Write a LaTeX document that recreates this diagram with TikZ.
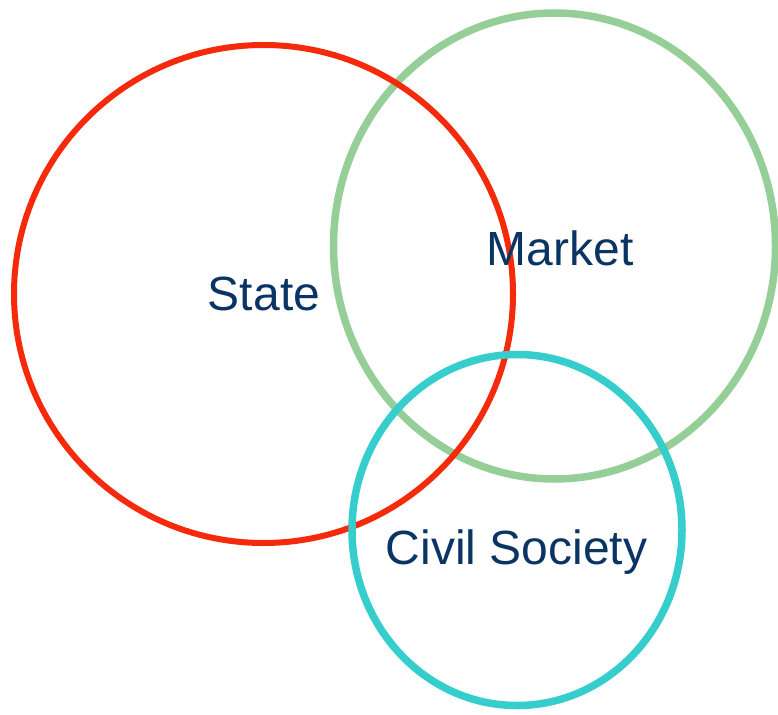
\documentclass[tikz,border=0pt]{standalone}
\usepackage{fontspec}
\setmainfont{Liberation Sans}
\definecolor{stred}{HTML}{F52A0A}
\definecolor{mkgreen}{HTML}{96CE98}
\definecolor{cvcyan}{HTML}{36CDCD}
\definecolor{lbl}{HTML}{0A3464}
\begin{document}
\begin{tikzpicture}[x=1pt,y=-1pt,
  ring/.style={line width=#1},
  lab/.style={text=lbl,font=\fontsize{48}{54}\selectfont,inner sep=0pt}]
\useasboundingbox (0,0) rectangle (778,714);
\clip (0,0) rectangle (778,714);
\draw[ring=7.5, mkgreen] (554.5,246) ellipse [x radius=221, y radius=233];
\draw[ring=6, stred] (263.5,294) ellipse [x radius=249.5, y radius=249];
\draw[ring=7.5, cvcyan] (517,530) ellipse [x radius=165, y radius=175.5];
\node[lab] (state) at (264,294) {State};
\node[lab] (market) at (560,248.5) {Market};
\node[lab] (civil) at (516.5,552) {Civil Society};
\end{tikzpicture}
\end{document}
